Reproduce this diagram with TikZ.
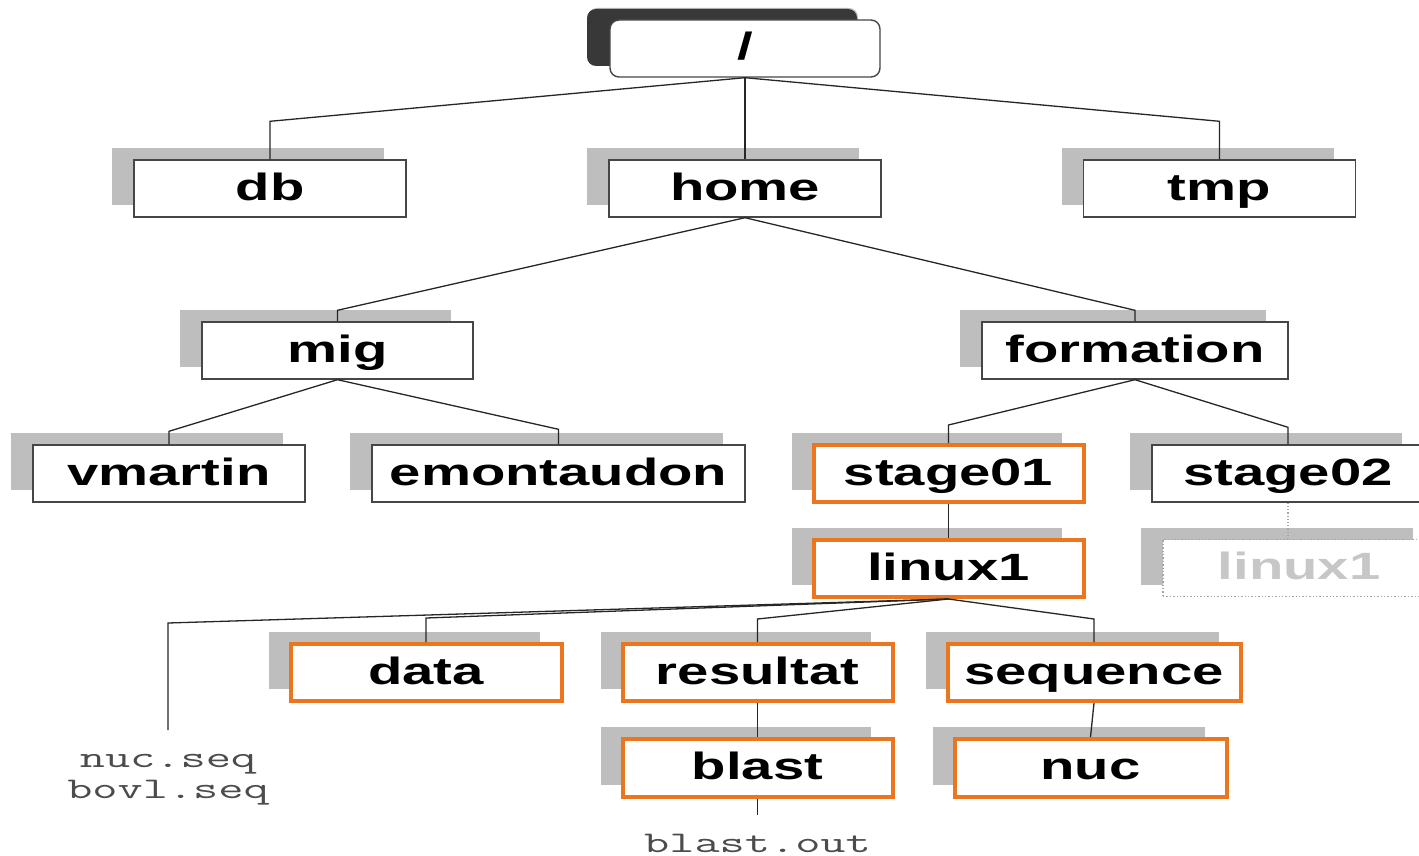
\documentclass[tikz,border=0pt]{standalone}
\usepackage{fontspec}
\newfontfamily\boxfont[FakeStretch=1.48]{Liberation Sans}
\newfontfamily\filefont[FakeStretch=1.63]{Latin Modern Mono}
\usetikzlibrary{shadows}
\definecolor{orangeb}{RGB}{236,118,32}
\definecolor{shadowg}{RGB}{190,190,190}
\definecolor{borderg}{RGB}{70,70,70}
\tikzset{
  dirbox/.style={draw=borderg, line width=1.4pt, fill=white, minimum height=57pt,
    inner sep=0pt, text height=27pt, text depth=4pt,
    font=\boxfont\bfseries\fontsize{38}{40}\selectfont,
    general shadow={fill=shadowg, shadow xshift=-22pt, shadow yshift=12pt}},
  hl/.style={draw=orangeb, line width=4pt},
  rootbox/.style={dirbox, rounded corners=9pt,
    general shadow={fill=black!78, rounded corners=9pt, shadow xshift=-23pt, shadow yshift=11pt}},
  ghost/.style={dirbox, draw=gray!70, dotted, line width=1.2pt, text=black!22},
  conn/.style={draw=black!85, line width=1.3pt},
  filetxt/.style={anchor=base, inner sep=0pt, text=black!70,
    font=\filefont\fontsize{30}{31}\selectfont}
}
\begin{document}
\begin{tikzpicture}[x=1pt,y=-1pt]
\useasboundingbox (0,0) rectangle (1419,856);
\clip (0,0) rectangle (1419,856);
% nodes
\node[rootbox, minimum width=270pt] (root) at (745,48.5) {/};
\node[dirbox, minimum width=272pt] (db) at (270,188.5) {db};
\node[dirbox, minimum width=272pt] (home) at (745,188.5) {home};
\node[dirbox, minimum width=272pt] (tmp) at (1219.5,188.5) {tmp};
\node[dirbox, minimum width=271pt] (mig) at (337.5,350.5) {mig};
\node[dirbox, minimum width=306pt] (formation) at (1135,350.5) {formation};
\node[dirbox, minimum width=272pt] (vmartin) at (169,473.5) {vmartin};
\node[dirbox, minimum width=373pt] (emontaudon) at (558.5,473.5) {emontaudon};
\node[dirbox, hl, minimum width=270pt] (stage01) at (948.5,473.5) {stage01};
\node[dirbox, minimum width=272pt] (stage02) at (1288,473.5) {stage02};
\node[dirbox, hl, minimum width=270pt] (linux1) at (948.5,568.5) {linux1};
\node[ghost, minimum width=272pt] (ghost) at (1299,568) {linux1};
\node[dirbox, hl, minimum width=271pt] (data) at (426,672.5) {data};
\node[dirbox, hl, minimum width=270pt] (resultat) at (757.5,672.5) {resultat};
\node[dirbox, hl, minimum width=293pt] (sequence) at (1094,672.5) {sequence};
\node[dirbox, hl, minimum width=270pt, minimum height=58pt] (blast) at (757.5,768) {blast};
\node[dirbox, hl, minimum width=272pt, minimum height=58pt] (nuc) at (1090.5,768) {nuc};
% file names
\node[filetxt] (f1) at (168,767) {nuc.seq};
\node[filetxt] (f2) at (168,798) {bovl.seq};
\node[filetxt] (f3) at (757.5,852) {blast.out};
\coordinate (fetop) at (168,623);
\coordinate (feend) at (168,730);
\coordinate (blend) at (757.5,815);
% connectors
\begin{scope}[conn]
\draw (root.south) -- ([yshift=38pt]db.north) -- (db.north);
\draw (root.south) -- (home.north);
\draw (root.south) -- ([yshift=38pt]tmp.north) -- (tmp.north);
\draw (home.south) -- ([yshift=11pt]mig.north) -- (mig.north);
\draw (home.south) -- ([yshift=11pt]formation.north) -- (formation.north);
\draw (mig.south) -- ([yshift=13pt]vmartin.north) -- (vmartin.north);
\draw (mig.south) -- ([yshift=15pt]emontaudon.north) -- (emontaudon.north);
\draw (formation.south) -- ([yshift=18pt]stage01.north) -- (stage01.north);
\draw (formation.south) -- ([yshift=17pt]stage02.north) -- (stage02.north);
\draw (stage01.south) -- (linux1.north);
\draw (linux1.south) -- (fetop) -- (feend);
\draw (linux1.south) -- ([yshift=24pt]data.north) -- (data.north);
\draw (linux1.south) -- ([yshift=23pt]resultat.north) -- (resultat.north);
\draw (linux1.south) -- ([yshift=23pt]sequence.north) -- (sequence.north);
\draw (resultat.south) -- (blast.north);
\draw (sequence.south) -- (nuc.north);
\draw (blast.south) -- (blend);
\end{scope}
\draw[draw=gray!70, dotted, line width=1.2pt] (stage02.south) -- (stage02.south |- ghost.north);
\end{tikzpicture}
\end{document}
